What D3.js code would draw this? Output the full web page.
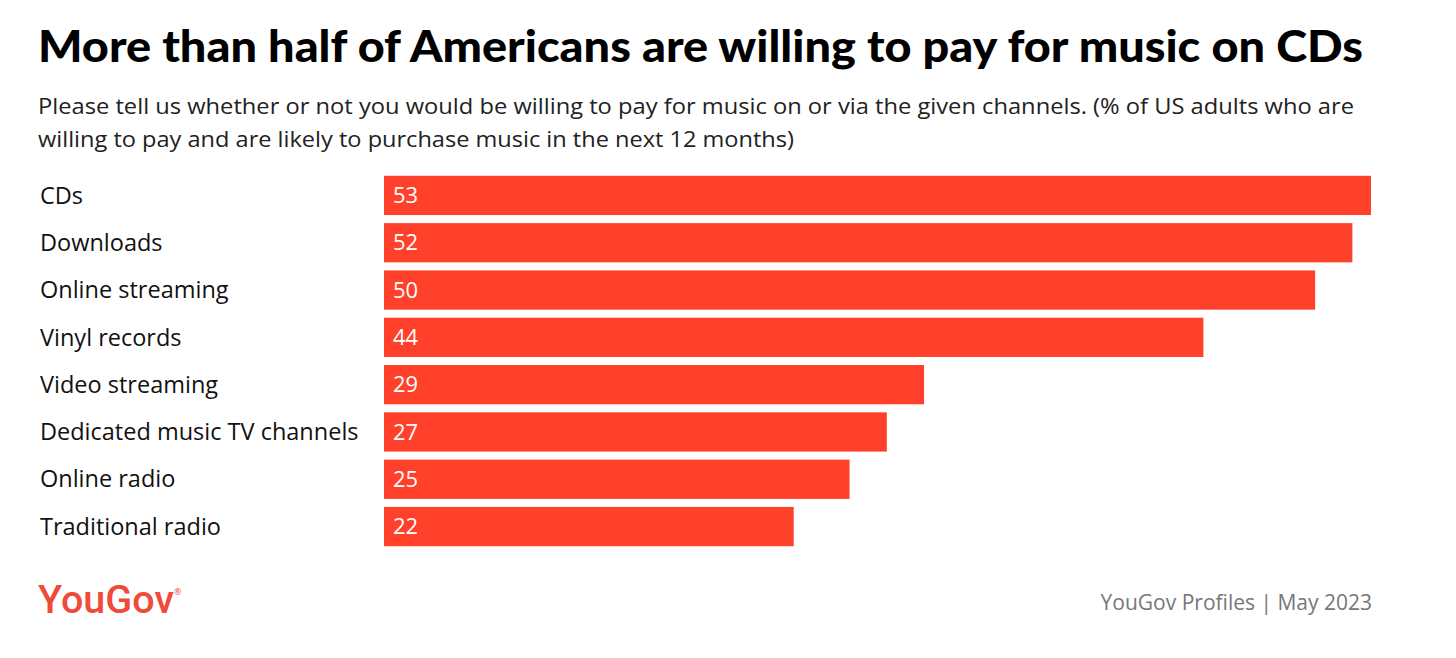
<!DOCTYPE html>
<html lang="en">
<head>
<meta charset="UTF-8">
<script src="https://cdnjs.cloudflare.com/ajax/libs/d3/7.8.5/d3.min.js"></script>
<style>
body { margin: 0; background: #fff; }
svg { display: block; font-family: "Open Sans", "Noto Sans", sans-serif; }
</style>
</head>
<body>
<script>
var categories = ["CDs", "Downloads", "Online streaming", "Vinyl records", "Video streaming",
  "Dedicated music TV channels", "Online radio", "Traditional radio"];
var values = [53, 52, 50, 44, 29, 27, 25, 22];

var width = 1456, height = 658;
var svg = d3.select("body").append("svg").attr("width", width).attr("height", height);

// Title and subtitle
svg.append("text").attr("x", 38).attr("y", 62)
  .attr("textLength", 1325).attr("lengthAdjust", "spacingAndGlyphs")
  .style("font-family", "Lato, sans-serif").style("font-weight", 900).style("font-size", "44px")
  .style("fill", "#000")
  .text("More than half of Americans are willing to pay for music on CDs");
var sub = ["Please tell us whether or not you would be willing to pay for music on or via the given channels. (% of US adults who are",
  "willing to pay and are likely to purchase music in the next 12 months)"];
var subLen = [1316, 756];
svg.selectAll("text.sub").data(sub).enter().append("text").attr("class", "sub")
  .attr("x", 38).attr("y", function (d, i) { return 114 + i * 33; })
  .attr("textLength", function (d, i) { return subLen[i]; }).attr("lengthAdjust", "spacingAndGlyphs")
  .style("font-size", "22.5px").style("fill", "#222").text(function (d) { return d; });

// Scales
var x = d3.scaleLinear().domain([0, 53]).range([384, 1371]);
var y = d3.scaleBand().domain(categories).range([172, 550]).paddingInner(0.17).paddingOuter(0.08);

var row = svg.selectAll("g.row").data(categories).enter().append("g").attr("class", "row");

row.append("rect")
  .attr("x", x(0)).attr("y", function (d) { return y(d); })
  .attr("width", function (d, i) { return x(values[i]) - x(0); })
  .attr("height", y.bandwidth())
  .style("fill", "#ff412c");

row.append("text").attr("x", 40).attr("y", function (d) { return y(d) + y.bandwidth() / 2; })
  .attr("dy", ".35em").style("font-size", "23.5px").style("fill", "#111")
  .text(function (d) { return d; });

row.append("text").attr("x", x(0) + 9).attr("y", function (d) { return y(d) + y.bandwidth() / 2; })
  .attr("dy", ".35em").style("font-size", "22px").style("fill", "#fff")
  .text(function (d, i) { return values[i]; });

// Footer
svg.append("text").attr("x", 38).attr("y", 613)
  .attr("textLength", 136).attr("lengthAdjust", "spacingAndGlyphs")
  .style("font-family", "Roboto, sans-serif").style("font-weight", 500).style("font-size", "38px")
  .style("fill", "#f04a3a").text("YouGov");
svg.append("text").attr("x", 174).attr("y", 595).style("font-size", "9px").style("fill", "#f04a3a").text("®");
svg.append("text").attr("x", 1372).attr("y", 610).attr("text-anchor", "end")
  .style("font-size", "21px").style("fill", "#777").text("YouGov Profiles | May 2023");
</script>
</body>
</html>
